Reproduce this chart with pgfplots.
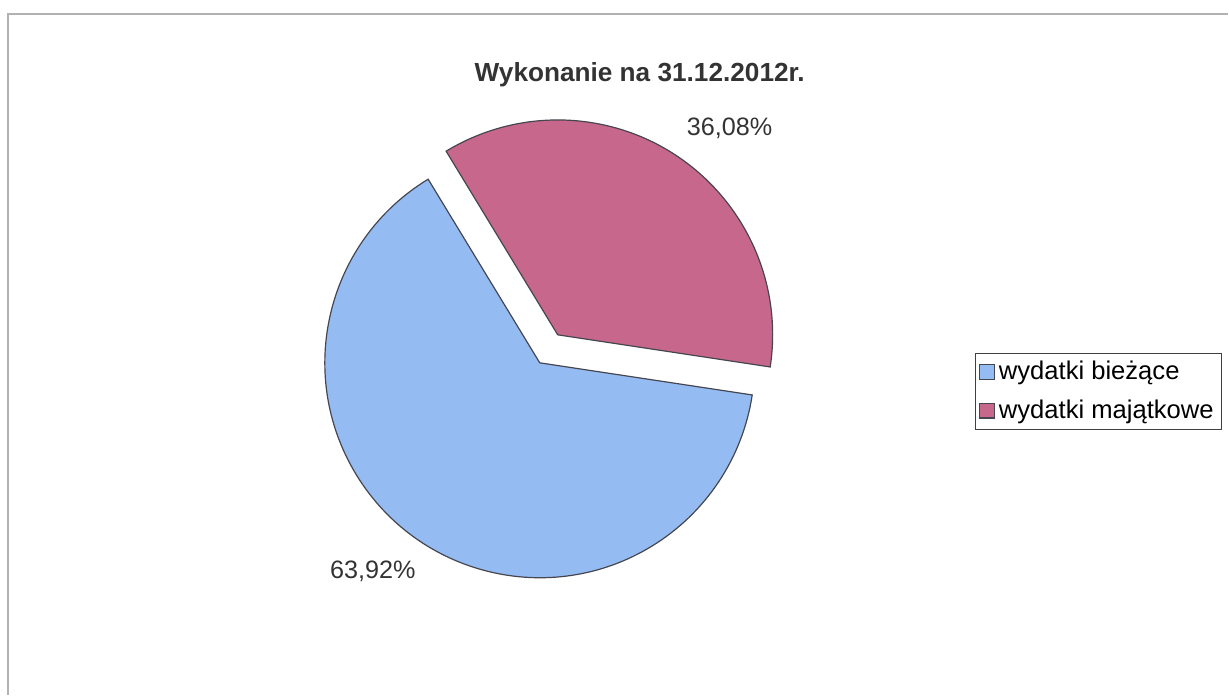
\documentclass[border=0pt]{standalone}
\usepackage{pgfplots}
\usepackage{pgfplotstable}
\pgfplotsset{compat=1.18}
\usepackage{fontspec}
\setmainfont{Liberation Sans}

\definecolor{biez}{RGB}{148,188,242}
\definecolor{maj}{RGB}{200,103,140}
\definecolor{edge}{RGB}{70,70,80}

% share of each kind of expenditure, in %
\pgfplotstableread{
kind value
biezace 63.92
majatkowe 36.08
}\wydatki

\pgfplotstablegetelem{0}{value}\of\wydatki \let\vBiez\pgfplotsretval
\pgfplotstablegetelem{1}{value}\of\wydatki \let\vMaj\pgfplotsretval
% slices laid out from -8.6 deg, counterclockwise
\pgfmathsetmacro\aS{-8.6}
\pgfmathsetmacro\aM{\aS+3.6*\vMaj}
\pgfmathsetmacro\aE{\aM+3.6*\vBiez}
\def\rad{107.5pt}

\begin{document}
\begin{tikzpicture}
\begin{axis}[hide axis,scale only axis,width=614.5pt,height=347.5pt,
 xmin=0,xmax=1229,ymin=0,ymax=695,clip=false,
 legend style={at={(975/1229,342/695)},anchor=north west,draw=black!75,
   font=\fontsize{12.8}{15}\selectfont,inner xsep=2pt,inner ysep=2pt,row sep=4.5pt,
   /tikz/every even column/.append style={column sep=1pt}},
 legend cell align=left,
 legend image code/.code={\draw[#1,draw=edge,line width=0.6pt] (0pt,-3.7pt) rectangle (7.4pt,3.7pt);}]
\path (axis cs:0,0) rectangle (axis cs:1229,695);
% frame of the chart area
\draw[gray!60,line width=0.6pt] (axis cs:8,0) -- (axis cs:8,681) -- (axis cs:1229,681);

% wydatki bieżące
\filldraw[fill=biez,draw=edge,line width=0.6pt] (axis cs:540,332) -- ++(\aM:\rad)
  arc[start angle=\aM,end angle=\aE,radius=\rad] -- cycle;
% wydatki majątkowe, pulled out along its middle
\filldraw[fill=maj,draw=edge,line width=0.6pt] (axis cs:558,360) -- ++(\aS:\rad)
  arc[start angle=\aS,end angle=\aM,radius=\rad] -- cycle;

\addlegendimage{fill=biez}
\addlegendentry{wydatki bieżące}
\addlegendimage{fill=maj}
\addlegendentry{wydatki majątkowe}

\node[font=\bfseries\fontsize{13.1}{15}\selectfont,text=black!80] at (axis cs:640,620) {Wykonanie na 31.12.2012r.};
\node[font=\fontsize{12.6}{15}\selectfont,text=black!80] at (axis cs:730,567) {36,08\%};
\node[font=\fontsize{12.6}{15}\selectfont,text=black!80] at (axis cs:373,123) {63,92\%};
\end{axis}
\end{tikzpicture}
\end{document}
